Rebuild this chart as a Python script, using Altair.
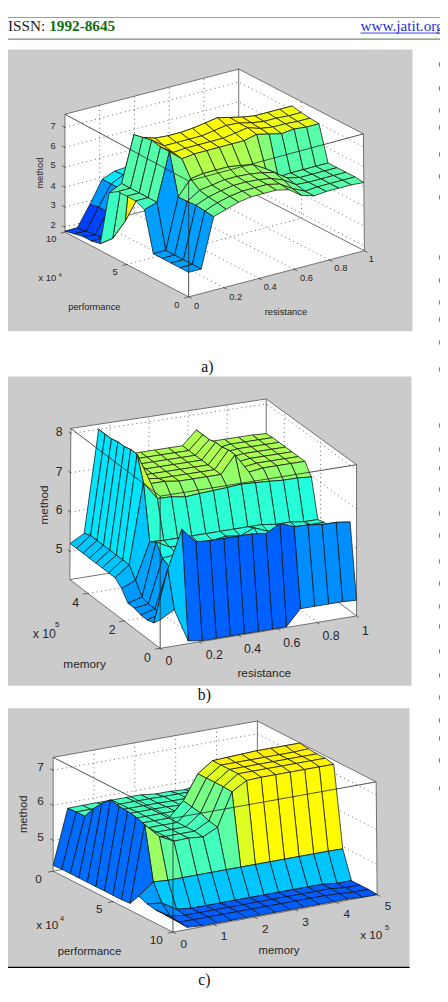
import altair as alt
import pandas as pd

alt.data_transformers.disable_max_rows()

# surface heights, rows = second input index, columns = first input index
Z_A = [
 [3.0,3.0,5.5,5.7,5.9,6.0,6.0,6.0,5.85,5.4,5.2,5.25,5.25,5.25,5.2],
 [3.0,3.0,5.55,5.8,5.95,6.05,6.05,6.05,5.9,5.5,5.2,5.25,5.25,5.25,5.25],
 [3.0,3.0,5.6,5.85,6.0,6.1,6.1,6.05,5.95,5.7,5.3,5.25,5.25,5.25,5.25],
 [3.0,3.0,5.55,5.95,6.05,6.15,6.15,6.1,6.0,5.85,5.4,5.25,5.25,5.25,5.25],
 [3.0,3.0,5.55,6.3,6.4,6.4,6.4,6.3,6.17,5.8,5.2,5.25,5.25,5.25,5.25],
 [5.0,5.2,7.6,7.07,7.15,7.15,7.15,7.15,7.15,7.3,7.15,7.0,7.07,7.0,7.0],
 [5.2,5.2,7.6,7.15,7.2,7.2,7.2,7.2,7.3,7.4,7.2,7.1,7.1,7.05,7.05],
 [5.2,5.2,7.7,7.25,7.25,7.25,7.25,7.35,7.45,7.4,7.25,7.15,7.15,7.1,7.1],
 [5.2,5.2,7.6,7.4,7.35,7.35,7.4,7.5,7.6,7.45,7.3,7.2,7.2,7.2,7.2],
 [4.9,5.2,7.5,4.5,4.5,4.5,4.5,4.5,4.5,4.5,4.5,4.5,4.5,4.5,4.5],
 [2.1,2.2,2.9,3.9,4.2,4.2,4.2,4.2,4.2,4.2,4.2,4.2,4.2,4.2,4.2],
 [2.0,2.0,2.9,3.9,4.2,4.2,4.2,4.2,4.2,4.2,4.2,4.2,4.2,4.2,4.2],
 [2.0,1.9,2.9,3.9,4.2,4.2,4.2,4.2,4.2,4.2,4.2,4.2,4.2,4.2,4.2],
 [1.9,1.85,2.9,3.9,4.2,4.2,4.2,4.2,4.2,4.2,4.2,4.2,4.2,4.2,4.2],
 [1.8,1.8,2.8,3.9,4.15,4.2,4.2,4.2,4.2,4.2,4.2,4.2,4.2,4.2,4.2],
]
Z_B = [
 [5.0,5.2,4.35,4.3,4.3,4.3,4.3,4.3,4.3,4.3,4.7,4.7,4.7,4.7,4.68],
 [4.8,6.1,7.05,6.68,6.65,6.65,6.65,6.65,6.6,6.8,6.66,6.65,6.6,6.6,6.55],
 [4.75,4.85,5.95,6.05,6.05,6.05,6.05,6.05,6.05,6.05,6.05,6.05,6.05,6.05,6.05],
 [4.75,4.85,5.87,6.0,6.0,6.0,6.0,6.0,6.0,6.0,6.0,6.0,6.0,6.0,6.0],
 [4.8,4.85,5.95,6.0,6.0,6.0,6.0,6.0,6.0,6.0,6.0,6.0,6.0,6.0,6.0],
 [4.8,4.9,6.24,6.05,6.05,6.05,6.05,6.1,6.05,6.2,6.05,6.05,6.05,6.05,6.05],
 [5.05,5.2,6.12,6.1,6.1,6.1,6.1,6.1,6.1,6.1,6.1,6.05,6.05,6.0,6.0],
 [5.2,5.47,7.5,7.04,7.03,6.97,7.0,7.02,7.04,7.07,7.05,7.03,7.0,7.0,6.97],
 [5.2,5.47,8.1,7.3,7.3,7.25,7.25,7.25,7.25,7.7,7.2,7.25,7.25,7.25,7.25],
 [5.2,5.47,8.1,7.3,7.25,7.25,7.25,7.25,7.25,7.7,7.2,7.25,7.25,7.25,7.25],
 [5.2,5.47,8.05,7.25,7.25,7.25,7.25,7.25,7.25,7.65,7.2,7.25,7.25,7.25,7.25],
 [5.2,5.47,8.05,7.25,7.25,7.25,7.25,7.25,7.25,7.65,7.2,7.25,7.25,7.25,7.25],
 [5.2,5.47,8.0,7.25,7.25,7.25,7.25,7.25,7.25,7.6,7.2,7.25,7.25,7.25,7.25],
 [5.2,5.47,8.0,7.25,7.25,7.25,7.25,7.25,7.25,7.6,7.2,7.25,7.25,7.25,7.25],
 [5.2,5.4,8.0,7.25,7.25,7.25,7.25,7.25,7.25,7.6,7.25,7.25,7.25,7.25,7.23],
]
Z_C = [
 [4.5,4.18,4.15,4.15,4.15,4.15,4.15,4.15,4.15,4.15,4.15,4.15,4.15,4.13,4.13],
 [4.5,4.2,4.2,4.2,4.2,4.2,4.2,4.2,4.2,4.2,4.2,4.2,4.18,4.15,4.15],
 [4.5,4.25,4.2,4.2,4.2,4.2,4.2,4.2,4.2,4.2,4.2,4.2,4.2,4.15,4.15],
 [4.55,4.5,4.25,4.2,4.2,4.2,4.2,4.2,4.2,4.2,4.2,4.2,4.2,4.15,4.15],
 [4.65,4.98,4.95,4.95,4.95,4.95,4.95,4.95,4.95,4.95,4.95,4.95,4.95,4.95,4.94],
 [4.32,6.49,6.08,5.87,5.88,5.84,6.04,6.98,7.23,7.25,7.25,7.25,7.25,7.25,7.25],
 [4.3,6.58,5.95,5.88,5.88,5.88,6.1,7.0,7.3,7.3,7.3,7.3,7.3,7.3,7.3],
 [4.3,6.62,5.9,5.88,5.88,5.88,6.2,7.0,7.3,7.3,7.3,7.3,7.3,7.3,7.3],
 [4.3,6.64,5.88,5.88,5.88,5.88,6.25,7.0,7.3,7.3,7.3,7.3,7.3,7.3,7.32],
 [4.3,6.7,5.88,5.88,5.88,5.88,6.3,7.0,7.3,7.32,7.34,7.36,7.36,7.36,7.36],
 [4.3,6.48,5.88,5.88,5.88,5.88,5.88,5.85,5.85,5.85,5.85,5.85,5.85,5.85,5.85],
 [4.3,6.2,5.88,5.88,5.88,5.88,5.88,5.85,5.85,5.85,5.85,5.85,5.85,5.85,5.85],
 [4.3,5.86,5.86,5.86,5.86,5.86,5.86,5.85,5.85,5.85,5.85,5.85,5.85,5.85,5.85],
 [4.3,5.86,5.86,5.86,5.86,5.86,5.86,5.85,5.85,5.85,5.85,5.85,5.85,5.85,5.85],
 [4.29,5.84,5.85,5.85,5.85,5.85,5.85,5.8,5.8,5.77,5.85,5.85,5.85,5.85,5.85],
]

# z-range, colour mapping and the 8 corners of each box (near/right/left/back, floor then top)
PANELS = [
 dict(name="a", z=Z_A, zmin=1.75, zmax=7.66, t0=0.2, tz=2.0, ts=0.08, row_hi=False,
      floor=[(192,293),(371,246),(66,227),(243,180)], top=[(192,175),(370,127),(66,107),(243,61)],
      cticks=[0,2.8,5.6,8.4,11.2,14], rticks=[0,7,14], zticks=[2,3,4,5,6,7], ticklen=0.35),
 dict(name="b", z=Z_B, zmin=4.28, zmax=8.13, t0=0.22, tz=4.3, ts=0.11, row_hi=False,
      floor=[(163,651),(363,618),(71,581),(271,548)], top=[(163,496),(363,464),(72,427),(271,397)],
      cticks=[0,2.8,5.6,8.4,11.2,14], rticks=[0,5.6,11.2], zticks=[5,6,7,8], ticklen=0.35),
 dict(name="c", z=Z_C, zmin=4.12, zmax=7.37, t0=0.21, tz=4.15, ts=0.135, row_hi=True,
      floor=[(176,940),(384,902),(54,878),(262,840)], top=[(176,824),(383,787),(54,762),(262,725)],
      cticks=[0,2.8,5.6,8.4,11.2,14], rticks=[0,7,14], zticks=[5,6,7], ticklen=0.35),
]

GREY_PANELS = [(0,420,41,328),(0,419,374,689),(0,417,712,976)]

SANS_LABELS = [
 # panel a
 ("7",54,119,9.5,0),("6",54,139,9.5,0),("5",54,159,9.5,0),("4",54,180,9.5,0),("3",54,200,9.5,0),("2",54,220,9.5,0),
 ("10",52,234,9.5,0),("5",117,268,9.5,0),("x 10",48,274,9.5,0),("4",61,271,6,0),("0",180,301,9.5,0),("0",200,302,9.5,0),
 ("0.2",240,293,9.5,0),("0.4",275,283,9.5,0),("0.6",312,274,9.5,0),("0.8",347,264,9.5,0),("1",378,255,9.5,0),
 ("performance",96,303,9.5,0),("resistance",291,308,9.5,0),("method",41,167,9.5,270),
 # panel b
 ("8",60,431,12.5,0),("7",60,471,12.5,0),("6",60,510,12.5,0),("5",60,550,12.5,0),("4",77,605,12.5,0),("2",114,632,12.5,0),
 ("x 10",45,636,12.5,0),("5",58,627,8,0),("0",150,661,12.5,0),("0",172,664,12.5,0),("0.2",218,658,12.5,0),
 ("0.4",257,652,12.5,0),("0.6",297,646,12.5,0),("0.8",337,639,12.5,0),("1",372,633,12.5,0),
 ("memory",86,667,12,0),("resistance",269,676,12,0),("method",45,505,12,270),
 # panel c
 ("7",41,772,12,0),("6",41,807,12,0),("5",41,843,12,0),("0",39,886,12,0),("5",101,917,12,0),("x 10",48,933,12,0),
 ("4",63,927,7.5,0),("10",159,948,12,0),("0",187,952,12,0),("1",228,944,12,0),("2",270,937,12,0),("3",311,930,12,0),
 ("4",353,922,12,0),("5",395,914,12,0),("x 10",378,943,12,0),("5",394,936,7.5,0),
 ("performance",91,960,11.5,0),("memory",284,959,11.5,0),("method",24,820,11.5,270),
]
CAPTIONS = [("a)",211,365),("b)",208,699),("c)",208,989)]
MARGIN_Y = [55,79,102,119,147,169,190,251,275,297,315,338,366,423,447,466,488,512,535,561,584,607,627,653,677,700,723,741,764,792]


def jet(t):
    f = lambda d: max(0.0, min(1.0, 1.5 - abs(4 * t - d)))
    return "#%02x%02x%02x" % tuple(int(round(255 * f(d))) for d in (3, 2, 1))


def projector(p):
    n, r, l, b = p["floor"]
    tn, tr, tl, tb = p["top"]
    def P(c, rw, z):
        u, v = c / 14, rw / 14
        w = (z - p["zmin"]) / (p["zmax"] - p["zmin"])
        out = []
        for k in (0, 1):
            fl = (1-u)*(1-v)*n[k] + u*(1-v)*r[k] + (1-u)*v*l[k] + u*v*b[k]
            tp = (1-u)*(1-v)*tn[k] + u*(1-v)*tr[k] + (1-u)*v*tl[k] + u*v*tb[k]
            out.append(fl + (tp - fl) * w)
        return out
    return P


polys, dots, backs, fronts = [], [], [], []
gid = 0


def add(store, pts, **kw):
    global gid
    gid += 1
    for k, (x, y) in enumerate(pts):
        store.append(dict(x=x, y=y, id=gid, k=k, **kw))


for p in PANELS:
    P = projector(p)
    zl, zh = p["zmin"], p["zmax"]
    # white walls
    for q in ([(0,0,zl),(14,0,zl),(14,14,zl),(0,14,zl)],
              [(0,14,zl),(14,14,zl),(14,14,zh),(0,14,zh)],
              [(14,0,zl),(14,14,zl),(14,14,zh),(14,0,zh)]):
        pts = [P(*a) for a in q]
        add(polys, pts + pts[:1], fill="#ffffff", layer=0)
    # dotted grid
    for c in p["cticks"][1:-1]:
        add(dots, [P(c,0,zl), P(c,14,zl), P(c,14,zh)])
    for rw in p["rticks"]:
        if 0 < rw < 14:
            add(dots, [P(0,rw,zl), P(14,rw,zl), P(14,rw,zh)])
    for z in p["zticks"]:
        add(dots, [P(0,14,z), P(14,14,z), P(14,0,z)])
    # box edges behind the surface
    for a, b_ in [((0,14,zl),(14,14,zl)), ((14,14,zl),(14,0,zl)), ((14,14,zl),(14,14,zh)),
                  ((0,14,zh),(14,14,zh)), ((14,14,zh),(14,0,zh)), ((0,14,zl),(0,14,zh)),
                  ((14,0,zl),(14,0,zh)), ((0,0,zl),(14,0,zl)), ((0,0,zl),(0,14,zl))]:
        add(backs, [P(*a), P(*b_)])
    # ticks
    tl = p["ticklen"]
    for c in p["cticks"]:
        add(backs, [P(c,0,zl), P(c,-tl,zl)])
    for rw in p["rticks"]:
        add(backs, [P(0,rw,zl), P(-tl,rw,zl)])
    for z in p["zticks"]:
        add(backs, [P(0,14,z), P(0,14+tl,z)])
    # surface, far corner first
    Z = p["z"]
    for rw in range(13, -1, -1):
        for c in range(13, -1, -1):
            base = Z[rw + 1][c] if p["row_hi"] else Z[rw][c]
            t = p["t0"] + (base - p["tz"]) * p["ts"]
            pts = [P(c,rw,Z[rw][c]), P(c+1,rw,Z[rw][c+1]), P(c+1,rw+1,Z[rw+1][c+1]), P(c,rw+1,Z[rw+1][c])]
            add(polys, pts + pts[:1], fill=jet(t), layer=1)
    # box edges in front of the surface
    add(fronts, [P(0,14,zh), P(0,0,zh), P(14,0,zh)])
    add(fronts, [P(0,0,zh), P(0,0,zl)])

sx = alt.Scale(domain=[8, 448], range=[0, 440], nice=False, zero=False)
sy = alt.Scale(domain=[8, 1002], range=[0, 994], nice=False, zero=False)
X = alt.X("x:Q", scale=sx, axis=None)
Y = alt.Y("y:Q", scale=sy, axis=None)

df_poly = pd.DataFrame(polys)
grey = pd.DataFrame([dict(x=a, x2=b, y=c, y2=d) for a, b, c, d in GREY_PANELS])
rects = alt.Chart(grey).mark_rect(color="#cbcbcb").encode(X, alt.X2("x2:Q"), Y, alt.Y2("y2:Q"))

walls = alt.Chart(df_poly[df_poly.layer == 0]).mark_line(stroke="#ffffff", strokeWidth=0.5).encode(
    X, Y, detail="id:N", order="k:Q", fill=alt.Fill("fill:N", scale=None))
surf = alt.Chart(df_poly[df_poly.layer == 1]).mark_line(stroke="#101010", strokeWidth=0.75).encode(
    X, Y, detail="id:N", order="k:Q", fill=alt.Fill("fill:N", scale=None))
dot = alt.Chart(pd.DataFrame(dots)).mark_line(stroke="#222222", strokeWidth=0.7, strokeDash=[1, 3.5]).encode(
    X, Y, detail="id:N", order="k:Q")
back = alt.Chart(pd.DataFrame(backs)).mark_line(stroke="#333333", strokeWidth=0.7).encode(
    X, Y, detail="id:N", order="k:Q")
front = alt.Chart(pd.DataFrame(fronts)).mark_line(stroke="#222222", strokeWidth=0.8).encode(
    X, Y, detail="id:N", order="k:Q")

df_sans = pd.DataFrame(SANS_LABELS, columns=["t", "x", "y", "s", "a"])
sans = alt.Chart(df_sans).mark_text(font="Liberation Sans", color="#262626", baseline="middle", align="center").encode(
    X, Y, text="t:N", size=alt.Size("s:Q", scale=None, legend=None), angle=alt.Angle("a:Q", scale=None))

head1 = alt.Chart(pd.DataFrame([dict(x=8, y=17, t="ISSN:")])).mark_text(
    font="Liberation Serif", fontSize=15.5, color="#1a1a1a", align="left", baseline="middle").encode(X, Y, text="t:N")
head2 = alt.Chart(pd.DataFrame([dict(x=50, y=17, t="1992-8645")])).mark_text(
    font="Liberation Serif", fontSize=15.5, fontWeight="bold", color="#0f6a14", align="left", baseline="middle").encode(X, Y, text="t:N")
head3 = alt.Chart(pd.DataFrame([dict(x=367, y=17, t="www.jatit.org")])).mark_text(
    font="Liberation Serif", fontSize=15.5, color="#1f2fd0", align="left", baseline="middle").encode(X, Y, text="t:N")
under = alt.Chart(pd.DataFrame([dict(x=367, x2=448, y=24.3)])).mark_rule(color="#1f2fd0", strokeWidth=0.9).encode(X, alt.X2("x2:Q"), Y)
rules = alt.Chart(pd.DataFrame([
    dict(x=8, x2=448, y=8.5, c="#9a9a9a", w=1.0),
    dict(x=8, x2=448, y=30.5, c="#6f8f6f", w=1.4),
    dict(x=8, x2=417, y=976, c="#000000", w=1.2),
])).mark_rule().encode(X, alt.X2("x2:Q"), Y, color=alt.Color("c:N", scale=None),
                       strokeWidth=alt.StrokeWidth("w:Q", scale=None, legend=None))
cap = alt.Chart(pd.DataFrame(CAPTIONS, columns=["t", "x", "y"])).mark_text(
    font="Liberation Serif", fontSize=16, color="#111111", align="center", baseline="middle").encode(X, Y, text="t:N")
marg = alt.Chart(pd.DataFrame([dict(x=446.6, y=v, t="e") for v in MARGIN_Y])).mark_text(
    font="Liberation Serif", fontSize=15, color="#111111", align="left", baseline="middle").encode(X, Y, text="t:N")

chart = alt.layer(rects, walls, dot, back, surf, front, sans, head1, head2, head3, under, rules, cap, marg).properties(
    width=440, height=994, padding=0, autosize=alt.AutoSizeParams(type="none"),
    background="#ffffff", view=alt.ViewConfig(stroke=None)
).configure_view(stroke=None)

chart.save("out.html", embed_options={"renderer": "svg", "actions": False})
